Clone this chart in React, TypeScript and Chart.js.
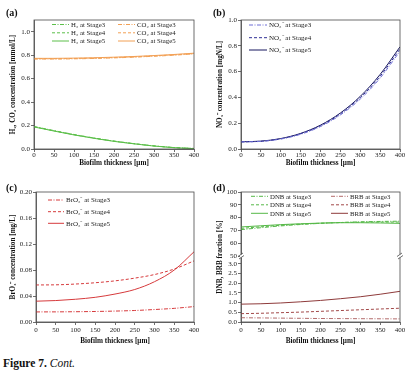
import React, { useEffect, useRef } from 'react';
import { Chart, registerables } from 'chart.js';

Chart.register(...registerables);

// ---------- data ----------
const thickness = [0, 50, 100, 150, 200, 250, 300, 350, 400];
const xTicks = [0, 50, 100, 150, 200, 250, 300, 350, 400];

// (a) H2 / CO2 [mmol/L]
const h2Stage3 = [0.192, 0.157, 0.124, 0.094, 0.068, 0.046, 0.027, 0.013, 0.005];
const h2Stage4 = [0.19, 0.155, 0.122, 0.093, 0.067, 0.045, 0.026, 0.012, 0.004];
const h2Stage5 = [0.188, 0.153, 0.12, 0.091, 0.065, 0.044, 0.025, 0.011, 0.003];
const co2Stage3 = [0.767, 0.767, 0.769, 0.772, 0.777, 0.783, 0.791, 0.8, 0.811];
const co2Stage4 = [0.77, 0.77, 0.772, 0.775, 0.78, 0.786, 0.794, 0.803, 0.814];
const co2Stage5 = [0.773, 0.773, 0.775, 0.778, 0.783, 0.789, 0.797, 0.806, 0.817];

// (b) NO3- [mgN/L]
const no3Stage3 = [0.055, 0.059, 0.077, 0.114, 0.174, 0.264, 0.387, 0.55, 0.758];
const no3Stage4 = [0.055, 0.06, 0.079, 0.118, 0.18, 0.272, 0.398, 0.564, 0.775];
const no3Stage5 = [0.056, 0.061, 0.081, 0.121, 0.185, 0.279, 0.408, 0.578, 0.792];

// (c) BrO3- [mg/L]
const bro3Stage3 = [0.0155, 0.0156, 0.0158, 0.0162, 0.0168, 0.0177, 0.0192, 0.021, 0.0237];
const bro3Stage4 = [0.057, 0.0572, 0.0584, 0.0604, 0.0633, 0.0675, 0.073, 0.0815, 0.094];
const bro3Stage5 = [0.032, 0.033, 0.035, 0.038, 0.043, 0.05, 0.062, 0.08, 0.108];

// (d) DNB / BRB fraction [%]
const dnbStage3 = [70.6, 72.1, 73.5, 74.6, 75.5, 76.2, 76.7, 77.0, 77.2];
const dnbStage4 = [71.6, 72.8, 74.0, 74.9, 75.6, 76.1, 76.4, 76.5, 76.5];
const dnbStage5 = [72.7, 73.6, 74.5, 75.2, 75.7, 76.0, 76.0, 75.8, 75.5];
const brbStage3 = [0.22, 0.21, 0.2, 0.19, 0.18, 0.175, 0.17, 0.165, 0.16];
const brbStage4 = [0.43, 0.45, 0.48, 0.51, 0.55, 0.59, 0.63, 0.67, 0.71];
const brbStage5 = [0.92, 0.94, 0.98, 1.04, 1.11, 1.2, 1.3, 1.43, 1.58];

// ---------- styles ----------
const SERIF = "'Liberation Serif', 'Times New Roman', serif";
const AXIS = '#4a4a4a';
const DASHDOT = [4, 1.5, 1, 1.5];
const DASH = [3, 2];
const SOLID: number[] = [];

const GREEN = '#5cbf4a';
const ORANGE = '#f2a055';
const BLUE3 = '#6f6fd6';
const BLUE4 = '#2e2e96';
const BLUE5 = '#16165e';
const RED = '#d63a3c';
const BROWN3 = '#b36b6b';
const BROWN4 = '#a24848';
const BROWN5 = '#8e3a3a';
const DNBGREEN = '#56b848';

const pts = (ys: number[]) => thickness.map((x, i) => ({ x, y: ys[i] }));

function line(label: string, ys: number[], color: string, dash: number[], yAxisID = 'y') {
  return {
    label,
    data: pts(ys),
    borderColor: color,
    backgroundColor: color,
    borderWidth: 1,
    borderDash: dash,
    pointRadius: 0,
    cubicInterpolationMode: 'monotone',
    fill: false,
    yAxisID,
  };
}

// ---------- plugins ----------
const legendPlugin = {
  id: 'inLegend',
  afterDatasetsDraw(chart: any, _args: any, opts: any) {
    if (!opts || !opts.items) return;
    const { ctx, chartArea } = chart;
    ctx.save();
    ctx.font = `${opts.size}px ${SERIF}`;
    ctx.textBaseline = 'middle';
    opts.items.forEach((it: any) => {
      const ds = chart.data.datasets[it.ds];
      const x0 = chartArea.left + opts.cols[it.col];
      const y = chartArea.top + opts.rows[it.row];
      ctx.strokeStyle = ds.borderColor;
      ctx.lineWidth = ds.borderWidth;
      ctx.setLineDash(ds.borderDash || []);
      ctx.beginPath();
      ctx.moveTo(x0, y);
      ctx.lineTo(x0 + opts.lineLen, y);
      ctx.stroke();
      ctx.setLineDash([]);
      ctx.fillStyle = '#222';
      ctx.fillText(ds.label, x0 + opts.lineLen + 2, y + 0.5);
    });
    ctx.restore();
  },
};

const framePlugin = {
  id: 'frame',
  afterDraw(chart: any, _args: any, opts: any) {
    const { ctx, chartArea: ca } = chart;
    ctx.save();
    ctx.strokeStyle = AXIS;
    ctx.lineWidth = 0.8;
    ctx.strokeRect(ca.left, ca.top, ca.right - ca.left, ca.bottom - ca.top);
    if (opts && opts.breakScale) {
      const y = chart.scales[opts.breakScale].bottom;
      [ca.left, ca.right].forEach((x: number) => {
        ctx.fillStyle = '#fff';
        ctx.fillRect(x - 1, y - 1.5, 2, 3);
        ctx.beginPath();
        ctx.moveTo(x - 3, y + 0.5);
        ctx.lineTo(x + 2, y - 3);
        ctx.moveTo(x - 2, y + 3);
        ctx.lineTo(x + 3, y - 0.5);
        ctx.stroke();
      });
    }
    if (opts && opts.yTitle) {
      ctx.translate(opts.yTitleX, (ca.top + ca.bottom) / 2);
      ctx.rotate(-Math.PI / 2);
      ctx.fillStyle = '#111';
      ctx.font = `bold ${opts.titleSize}px ${SERIF}`;
      ctx.textAlign = 'center';
      ctx.textBaseline = 'middle';
      ctx.fillText(opts.yTitle, 0, 0);
    }
    ctx.restore();
  },
};

// ---------- option helpers ----------
const TICK = 7;
const TITLE = 7.2;

function xScale(canvasH: number, bottom: number, titleOffset: number, tickPad: number) {
  return {
    type: 'linear',
    min: 0,
    max: 400,
    afterFit: (s: any) => {
      s.height = canvasH - bottom;
    },
    afterBuildTicks: (s: any) => {
      s.ticks = xTicks.map((v) => ({ value: v }));
    },
    ticks: {
      autoSkip: false,
      maxRotation: 0,
      padding: tickPad,
      color: '#222',
      font: { family: SERIF, size: TICK },
      callback: (v: any) => String(v),
    },
    grid: { drawOnChartArea: false, drawTicks: true, tickLength: 3, tickColor: AXIS, tickWidth: 0.8 },
    border: { display: true, color: AXIS, width: 0.8 },
    title: {
      display: true,
      text: 'Biofilm thickness [μm]',
      color: '#111',
      font: { family: SERIF, size: TITLE, weight: 'bold' },
      padding: { top: 0, bottom: titleOffset - (TITLE * 1.2) / 2 },
    },
  };
}

function yScale(opts: any) {
  const s: any = {
    type: 'linear',
    position: 'left',
    min: opts.min,
    max: opts.max,
    afterFit: (sc: any) => {
      sc.width = opts.width;
    },
    afterBuildTicks: (sc: any) => {
      sc.ticks = opts.ticks.map((v: number) => ({ value: v }));
    },
    ticks: {
      autoSkip: false,
      padding: 1,
      color: '#222',
      font: { family: SERIF, size: TICK },
      callback: (v: any) => Number(v).toFixed(opts.decimals),
    },
    grid: { drawOnChartArea: false, drawTicks: true, tickLength: 3, tickColor: AXIS, tickWidth: 0.8 },
    border: { display: true, color: AXIS, width: 0.8 },
    title: opts.title
      ? {
          display: true,
          text: opts.title,
          color: '#111',
          font: { family: SERIF, size: TITLE, weight: 'bold' },
          padding: { top: 13 - (TITLE * 1.2) / 2, bottom: 0 },
        }
      : { display: false },
  };
  if (opts.stack) {
    s.stack = opts.stack;
    s.stackWeight = opts.stackWeight;
  }
  return s;
}

function baseOptions(p: any) {
  return {
    responsive: false,
    animation: false,
    events: [],
    layout: { padding: { left: 0, top: p.top, right: p.right, bottom: 0 } },
    plugins: {
      legend: { display: false },
      tooltip: { enabled: false },
      inLegend: p.legend,
      frame: p.frame || {},
    },
    scales: p.scales,
  };
}

// ---------- chart configs ----------
function configA() {
  return {
    type: 'line',
    data: {
      datasets: [
        line('H₂ at Stage3', h2Stage3, GREEN, DASHDOT),
        line('H₂ at Stage4', h2Stage4, GREEN, DASH),
        line('H₂ at Stage5', h2Stage5, GREEN, SOLID),
        line('CO₂ at Stage3', co2Stage3, ORANGE, DASHDOT),
        line('CO₂ at Stage4', co2Stage4, ORANGE, DASH),
        line('CO₂ at Stage5', co2Stage5, ORANGE, SOLID),
      ],
    },
    options: baseOptions({
      top: 20,
      right: 13,
      legend: {
        size: 6.8,
        lineLen: 17,
        cols: [18, 84],
        rows: [4.5, 12.8, 21],
        items: [
          { ds: 0, col: 0, row: 0 },
          { ds: 1, col: 0, row: 1 },
          { ds: 2, col: 0, row: 2 },
          { ds: 3, col: 1, row: 0 },
          { ds: 4, col: 1, row: 1 },
          { ds: 5, col: 1, row: 2 },
        ],
      },
      scales: {
        x: xScale(175, 149, 11.5, -1),
        y: yScale({
          min: 0,
          max: 1.1,
          width: 34,
          ticks: [0, 0.2, 0.4, 0.6, 0.8, 1.0],
          decimals: 1,
          title: 'H₂, CO₂ concentration [mmol/L]',
        }),
      },
    }),
    plugins: [legendPlugin, framePlugin],
  };
}

function configB() {
  return {
    type: 'line',
    data: {
      datasets: [
        line('NO₃⁻ at Stage3', no3Stage3, BLUE3, DASHDOT),
        line('NO₃⁻ at Stage4', no3Stage4, BLUE4, DASH),
        line('NO₃⁻ at Stage5', no3Stage5, BLUE5, SOLID),
      ],
    },
    options: baseOptions({
      top: 20,
      right: 13,
      legend: {
        size: 7,
        lineLen: 18,
        cols: [8],
        rows: [5, 17.7, 30],
        items: [
          { ds: 0, col: 0, row: 0 },
          { ds: 1, col: 0, row: 1 },
          { ds: 2, col: 0, row: 2 },
        ],
      },
      scales: {
        x: xScale(175, 149, 11.5, -1),
        y: yScale({
          min: 0,
          max: 1.0,
          width: 34,
          ticks: [0, 0.2, 0.4, 0.6, 0.8, 1.0],
          decimals: 1,
          title: 'NO₃⁻ concentration [mgN/L]',
        }),
      },
    }),
    plugins: [legendPlugin, framePlugin],
  };
}

function configC() {
  return {
    type: 'line',
    data: {
      datasets: [
        line('BrO₃⁻ at Stage3', bro3Stage3, RED, DASHDOT),
        line('BrO₃⁻ at Stage4', bro3Stage4, RED, DASH),
        line('BrO₃⁻ at Stage5', bro3Stage5, RED, SOLID),
      ],
    },
    options: baseOptions({
      top: 17,
      right: 13,
      legend: {
        size: 7,
        lineLen: 16,
        cols: [12],
        rows: [8, 19.7, 31.3],
        items: [
          { ds: 0, col: 0, row: 0 },
          { ds: 1, col: 0, row: 1 },
          { ds: 2, col: 0, row: 2 },
        ],
      },
      scales: {
        x: xScale(180, 147, 14, 1),
        y: yScale({
          min: 0,
          max: 0.2,
          width: 36,
          ticks: [0, 0.04, 0.08, 0.12, 0.16, 0.2],
          decimals: 2,
          title: 'BrO₃⁻ concentration [mg/L]',
        }),
      },
    }),
    plugins: [legendPlugin, framePlugin],
  };
}

function configD() {
  return {
    type: 'line',
    data: {
      datasets: [
        line('DNB at Stage3', dnbStage3, DNBGREEN, DASHDOT, 'yHigh'),
        line('DNB at Stage4', dnbStage4, DNBGREEN, DASH, 'yHigh'),
        line('DNB at Stage5', dnbStage5, DNBGREEN, SOLID, 'yHigh'),
        line('BRB at Stage3', brbStage3, BROWN3, DASHDOT, 'yLow'),
        line('BRB at Stage4', brbStage4, BROWN4, DASH, 'yLow'),
        line('BRB at Stage5', brbStage5, BROWN5, SOLID, 'yLow'),
      ],
    },
    options: baseOptions({
      top: 17,
      right: 13,
      legend: {
        size: 6.8,
        lineLen: 17,
        cols: [10, 90],
        rows: [4.3, 12.8, 21.3],
        items: [
          { ds: 0, col: 0, row: 0 },
          { ds: 1, col: 0, row: 1 },
          { ds: 2, col: 0, row: 2 },
          { ds: 3, col: 1, row: 0 },
          { ds: 4, col: 1, row: 1 },
          { ds: 5, col: 1, row: 2 },
        ],
      },
      frame: { breakScale: 'yHigh', yTitle: 'DNB, BRB fraction [%]', yTitleX: 13, titleSize: TITLE },
      scales: {
        x: xScale(180, 147, 14, 1),
        yLow: yScale({
          min: 0,
          max: 3.4,
          width: 34,
          ticks: [0, 0.5, 1.0, 1.5, 2.0, 2.5, 3.0],
          decimals: 1,
          stack: 'frac',
          stackWeight: 66,
        }),
        yHigh: yScale({
          min: 50,
          max: 100,
          width: 34,
          ticks: [50, 60, 70, 80, 90, 100],
          decimals: 0,
          stack: 'frac',
          stackWeight: 64,
        }),
      },
    }),
    plugins: [legendPlugin, framePlugin],
  };
}

// ---------- components ----------
function Panel(props: { left: number; top: number; w: number; h: number; label: string; make: () => any }) {
  const ref = useRef<HTMLCanvasElement | null>(null);
  useEffect(() => {
    if (!ref.current) return;
    const chart = new Chart(ref.current, props.make() as any);
    return () => chart.destroy();
  }, []);
  return (
    <div style={{ position: 'absolute', left: props.left, top: props.top, width: props.w, height: props.h }}>
      <canvas ref={ref} width={props.w} height={props.h} style={{ display: 'block' }} />
      <div
        style={{
          position: 'absolute',
          left: 6,
          top: 7,
          fontFamily: SERIF,
          fontWeight: 'bold',
          fontSize: 10,
          lineHeight: '11px',
          color: '#111',
        }}
      >
        {props.label}
      </div>
    </div>
  );
}

export default function App() {
  return (
    <div
      style={{
        position: 'absolute',
        left: 0,
        top: 0,
        width: 413,
        height: 372,
        background: '#fff',
        overflow: 'hidden',
      }}
    >
      <Panel left={0} top={0} w={207} h={175} label="(a)" make={configA} />
      <Panel left={207} top={0} w={206} h={175} label="(b)" make={configB} />
      <Panel left={0} top={175} w={207} h={180} label="(c)" make={configC} />
      <Panel left={207} top={175} w={206} h={180} label="(d)" make={configD} />
      <div
        style={{
          position: 'absolute',
          left: 3,
          top: 357,
          fontFamily: SERIF,
          fontSize: 11.5,
          lineHeight: '13px',
          color: '#111',
          whiteSpace: 'nowrap',
        }}
      >
        <span style={{ fontWeight: 'bold' }}>Figure 7.</span> <span style={{ fontStyle: 'italic' }}>Cont.</span>
      </div>
    </div>
  );
}
